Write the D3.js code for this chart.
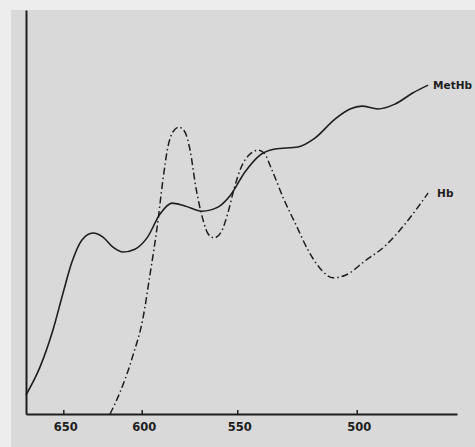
<!DOCTYPE html>
<html>
<head>
<meta charset="utf-8">
<script src="https://cdn.jsdelivr.net/npm/d3@7"></script>
<style>
  html, body { margin: 0; padding: 0; background: #ededed; }
  svg { display: block; }
</style>
</head>
<body>
<div id="chart"></div>
<script>
// Wavelength (nm) tick labels on the reversed x axis
const tickLabels = [650, 600, 550, 500];

// MetHb absorption curve (solid): wavelength (nm) and relative absorbance
const metHbWavelength = [673.8, 664.9, 656.6, 650.2, 644.5, 638.1, 631.1, 624.7, 618.3, 611.9, 604.3, 597.2, 590.4, 584.2, 577.4, 568.5, 560.1, 553.8, 546.8, 540.5, 534.2, 524.6, 517.5, 509.1, 502.8, 497.8, 491.1, 484.0, 476.4, 470.1];
const metHbValue      = [4.7, 11.6, 20.8, 29.9, 37.6, 43.1, 44.8, 43.8, 41.3, 40.1, 40.8, 43.6, 49.5, 52.2, 51.5, 50.2, 51.2, 54.0, 59.9, 64.1, 65.6, 66.1, 68.3, 73.0, 75.5, 76.2, 75.5, 76.7, 79.5, 81.4];

// Hb absorption curve (dash-dot): wavelength (nm) and relative absorbance
const hbWavelength = [620.2, 613.8, 605.5, 599.3, 595.7, 592.0, 588.9, 586.3, 583.7, 580.5, 577.4, 574.7, 571.6, 567.9, 565.3, 562.2, 558.5, 554.9, 551.7, 548.5, 545.1, 541.3, 538.8, 535.5, 530.4, 525.4, 520.4, 515.4, 509.9, 504.5, 496.5, 488.1, 479.8, 470.1];
const hbValue      = [0, 5.4, 14.6, 23.8, 34.4, 46.0, 57.9, 66.1, 69.8, 71.0, 69.8, 65.3, 55.9, 48.0, 44.6, 43.6, 45.0, 49.8, 55.7, 60.9, 64.1, 65.3, 64.6, 60.4, 53.0, 46.8, 40.6, 36.1, 33.7, 34.4, 37.9, 41.6, 47.0, 54.7];

const seriesNames = ["MetHb", "Hb"];

const W = 475, H = 447;
const svg = d3.select("#chart").append("svg").attr("width", W).attr("height", H);

// scanned page background
svg.append("rect").attr("x", 0).attr("y", 0).attr("width", W).attr("height", H).attr("fill", "#ededed");
svg.append("rect").attr("x", 11).attr("y", 10).attr("width", W - 11).attr("height", H - 10).attr("fill", "#d9d9d9");

// piecewise wavelength scale (spacing of the original axis is non-uniform)
const x = d3.scaleLinear()
  .domain([673.8, 650, 600, 550, 500, 458])
  .range([26, 63.3, 141.7, 237.3, 356.7, 457]);
const y = d3.scaleLinear().domain([0, 100]).range([414, 10]);

const ink = "#1e1e1e";

// x axis
const xAxis = d3.axisBottom(x).tickValues(tickLabels).tickSize(-4).tickSizeOuter(0).tickPadding(9).tickFormat(d3.format("d"));
const gx = svg.append("g").attr("transform", `translate(0,${y(0)})`).call(xAxis);
gx.select(".domain").attr("stroke", ink).attr("stroke-width", 2);
gx.selectAll(".tick line").attr("stroke", ink).attr("stroke-width", 1.5);
gx.selectAll(".tick text")
  .attr("fill", ink)
  .attr("font-family", "DejaVu Sans, sans-serif")
  .attr("font-size", 11.5)
  .attr("font-weight", "bold")
  .attr("dx", 2);

// y axis (no ticks)
const yAxis = d3.axisLeft(y).tickValues([]).tickSizeOuter(0);
const gy = svg.append("g").attr("transform", `translate(${x(673.8)},0)`).call(yAxis);
gy.select(".domain").attr("stroke", ink).attr("stroke-width", 2);

const line = d3.line().x(d => x(d[0])).y(d => y(d[1])).curve(d3.curveMonotoneX);

const metData = metHbWavelength.map((w, i) => [w, metHbValue[i]]);
const hbData = hbWavelength.map((w, i) => [w, hbValue[i]]);

svg.append("path").datum(metData)
  .attr("d", line).attr("fill", "none").attr("stroke", ink).attr("stroke-width", 1.6);

svg.append("path").datum(hbData)
  .attr("d", line).attr("fill", "none").attr("stroke", ink).attr("stroke-width", 1.5)
  .attr("stroke-dasharray", "7,3,1.5,3");

// series labels at the end of each curve
const lastMet = metData[metData.length - 1];
const lastHb = hbData[hbData.length - 1];
svg.append("text").text(seriesNames[0])
  .attr("x", x(lastMet[0]) + 5).attr("y", y(lastMet[1]) + 4)
  .attr("font-family", "DejaVu Sans, sans-serif").attr("font-size", 10.5).attr("font-weight", "bold").attr("fill", ink);
svg.append("text").text(seriesNames[1])
  .attr("x", x(lastHb[0]) + 9).attr("y", y(lastHb[1]) + 4)
  .attr("font-family", "DejaVu Sans, sans-serif").attr("font-size", 10.5).attr("font-weight", "bold").attr("fill", ink);
</script>
</body>
</html>
